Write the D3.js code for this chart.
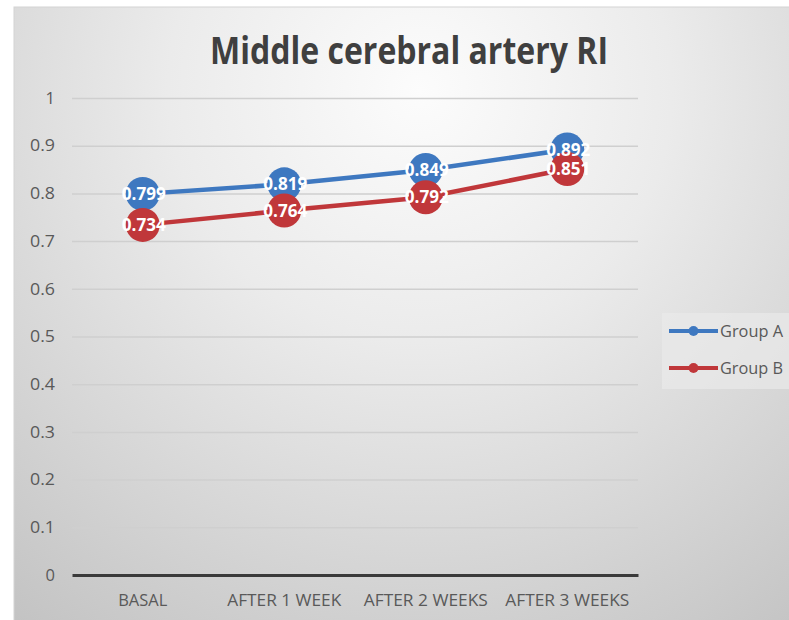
<!DOCTYPE html>
<html>
<head>
<meta charset="utf-8">
<script src="https://cdn.jsdelivr.net/npm/d3@7"></script>
<style>
  html, body { margin: 0; padding: 0; background: #ffffff; }
  svg { display: block; }
</style>
</head>
<body>
<svg id="chart" width="789" height="620"></svg>
<script>
// Middle cerebral artery resistive index, two groups over time
const categories = ["BASAL", "AFTER 1 WEEK", "AFTER 2 WEEKS", "AFTER 3 WEEKS"];
const groupA = [0.799, 0.819, 0.849, 0.892];
const groupB = [0.734, 0.764, 0.792, 0.851];
const seriesNames = ["Group A", "Group B"];
const yTicks = [0, 0.1, 0.2, 0.3, 0.4, 0.5, 0.6, 0.7, 0.8, 0.9, 1];

const series = [
  { name: seriesNames[0], values: groupA, color: "#3e78c0" },
  { name: seriesNames[1], values: groupB, color: "#c0373a" }
];

const svg = d3.select("#chart");
const W = 789, H = 620;
const frame = { x: 14, y: 7 };
const plot = { left: 72, right: 638, top: 98, bottom: 575 };
const FONT = "'Open Sans', 'Liberation Sans', sans-serif";

// Background panel with soft grey radial shading
const defs = svg.append("defs");
const grad = defs.append("radialGradient")
  .attr("id", "bg")
  .attr("gradientUnits", "userSpaceOnUse")
  .attr("cx", 420).attr("cy", 90).attr("r", 720);
grad.append("stop").attr("offset", "0%").attr("stop-color", "#fcfcfc");
grad.append("stop").attr("offset", "35%").attr("stop-color", "#ebebeb");
grad.append("stop").attr("offset", "100%").attr("stop-color", "#bebebe");

svg.append("rect")
  .attr("x", frame.x).attr("y", frame.y)
  .attr("width", W - frame.x + 2).attr("height", H - frame.y + 2)
  .attr("fill", "url(#bg)")
  .attr("stroke", "#d4d4d4").attr("stroke-width", 1);

// Scales
const x = d3.scaleBand().domain(categories).range([plot.left, plot.right]);
const y = d3.scaleLinear().domain([0, 1]).range([plot.bottom, plot.top]);
const cx = c => x(c) + x.bandwidth() / 2;

// Title
svg.append("text")
  .attr("x", 409).attr("y", 64)
  .attr("text-anchor", "middle")
  .attr("font-family", FONT)
  .attr("font-weight", "bold")
  .attr("font-size", 38)
  .attr("fill", "#3f3f3f")
  .attr("textLength", 398)
  .attr("lengthAdjust", "spacingAndGlyphs")
  .text("Middle cerebral artery RI");

// Horizontal gridlines and value ticks
const yAxis = d3.axisLeft(y).tickValues(yTicks).tickSize(-(plot.right - plot.left))
  .tickFormat(d3.format("~g")).tickPadding(17);
const gy = svg.append("g").attr("transform", `translate(${plot.left},0)`).call(yAxis);
gy.select(".domain").remove();
gy.selectAll(".tick line").attr("stroke", "#cfcfcf").attr("stroke-width", 1.5);
gy.selectAll(".tick text")
  .attr("font-family", FONT)
  .attr("font-size", 16.5).attr("fill", "#595959")
  .each(function(d) {
    if (d !== 0 && d !== 1) d3.select(this).attr("textLength", 25).attr("lengthAdjust", "spacingAndGlyphs");
  });

// Category axis with heavy baseline
const xAxis = d3.axisBottom(x).tickSize(0).tickPadding(19);
const gx = svg.append("g").attr("transform", `translate(0,${plot.bottom})`).call(xAxis);
gx.select(".domain").attr("stroke", "#3a3a3a").attr("stroke-width", 3);
const labelLen = { "BASAL": 49, "AFTER 1 WEEK": 114, "AFTER 2 WEEKS": 124, "AFTER 3 WEEKS": 124 };
gx.selectAll(".tick text")
  .attr("font-family", FONT)
  .attr("font-size", 16.5).attr("fill", "#595959")
  .attr("textLength", d => labelLen[d])
  .attr("lengthAdjust", "spacingAndGlyphs");

// Lines
const line = d3.line().x((d, i) => cx(categories[i])).y(d => y(d));
series.forEach(s => {
  svg.append("path")
    .datum(s.values)
    .attr("fill", "none")
    .attr("stroke", s.color)
    .attr("stroke-width", 4.5)
    .attr("d", line);
});

// Markers
series.forEach(s => {
  svg.append("g").selectAll("circle").data(s.values).join("circle")
    .attr("cx", (d, i) => cx(categories[i]))
    .attr("cy", d => y(d))
    .attr("r", 17)
    .attr("fill", s.color);
});

// Value labels
series.forEach(s => {
  svg.append("g").selectAll("text").data(s.values).join("text")
    .attr("x", (d, i) => cx(categories[i]) + 1)
    .attr("y", d => y(d) + 6)
    .attr("text-anchor", "middle")
    .attr("font-family", FONT)
    .attr("font-weight", "bold")
    .attr("font-size", 17)
    .attr("fill", "#ffffff")
    .attr("textLength", 44)
    .attr("lengthAdjust", "spacingAndGlyphs")
    .text(d => d3.format(".3f")(d));
});

// Legend
const legend = svg.append("g");
legend.append("rect")
  .attr("x", 662).attr("y", 313).attr("width", 127).attr("height", 76)
  .attr("fill", "#e9e9e9").attr("opacity", 0.7);
series.forEach((s, i) => {
  const ly = 331 + i * 37;
  legend.append("line")
    .attr("x1", 669).attr("x2", 718).attr("y1", ly).attr("y2", ly)
    .attr("stroke", s.color).attr("stroke-width", 4);
  legend.append("circle").attr("cx", 693.5).attr("cy", ly).attr("r", 5).attr("fill", s.color);
  legend.append("text")
    .attr("x", 720).attr("y", ly + 6)
    .attr("font-family", FONT)
    .attr("font-size", 16.5).attr("fill", "#595959")
    .attr("textLength", 63)
    .attr("lengthAdjust", "spacingAndGlyphs")
    .text(s.name);
});
</script>
</body>
</html>
